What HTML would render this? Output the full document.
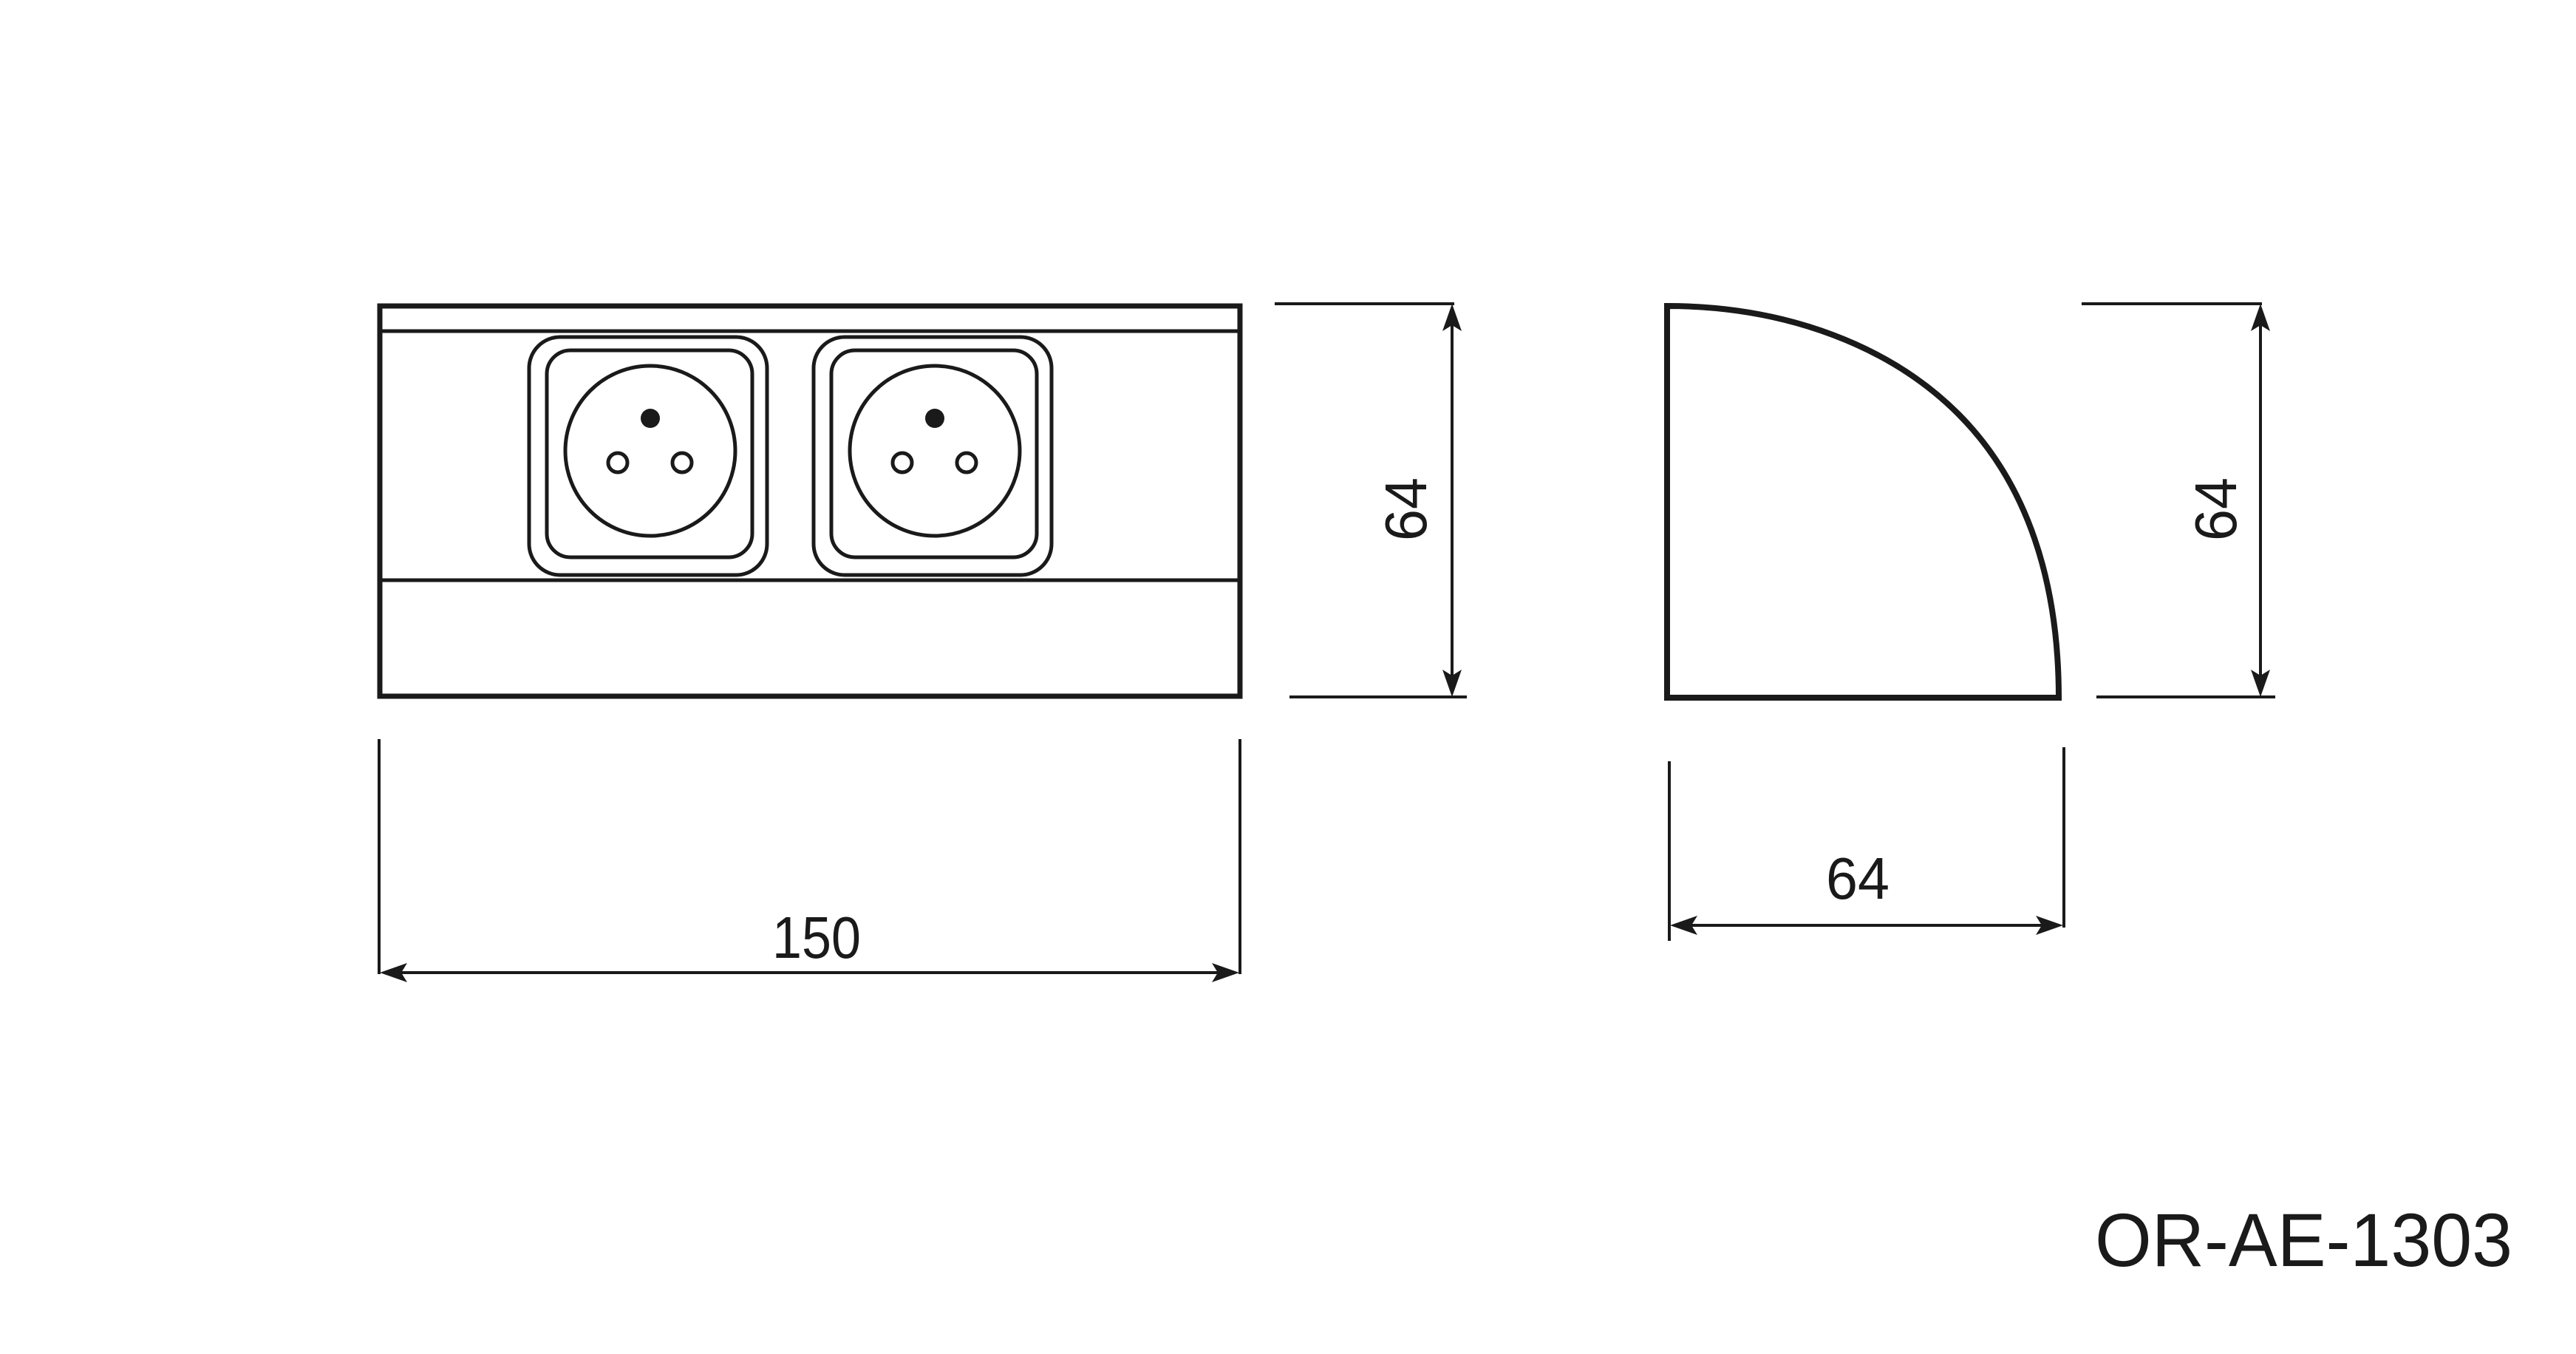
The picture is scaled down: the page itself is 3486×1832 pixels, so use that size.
<!DOCTYPE html>
<html><head><style>html,body{margin:0;padding:0;background:#fff}svg{display:block}</style></head>
<body>
<svg width="3486" height="1832" viewBox="0 0 3486 1832" xmlns="http://www.w3.org/2000/svg">
<defs>
<g id="sock" fill="none" stroke="#1a1a1a" stroke-width="5">
  <rect x="716" y="456" width="322" height="322" rx="42"/>
  <rect x="740" y="474" width="278" height="280" rx="32"/>
  <circle cx="880" cy="610" r="115"/>
  <circle cx="880" cy="566" r="13" fill="#1a1a1a" stroke="none"/>
  <circle cx="836" cy="626" r="13"/>
  <circle cx="923" cy="626" r="13"/>
</g>
</defs>
<rect width="3486" height="1832" fill="#fff"/>
<g stroke="#1a1a1a" fill="none">
  <rect x="514" y="414" width="1164" height="528" stroke-width="7"/>
  <line x1="514" y1="448" x2="1678" y2="448" stroke-width="5"/>
  <line x1="514" y1="785" x2="1678" y2="785" stroke-width="5"/>
</g>
<use href="#sock"/>
<use href="#sock" x="385"/>

<g stroke="#1a1a1a" stroke-width="4">
  <line x1="1725" y1="411" x2="1968" y2="411"/>
  <line x1="1745" y1="943" x2="1985" y2="943"/>
  <line x1="1965" y1="420" x2="1965" y2="935"/>
  <line x1="513" y1="1000" x2="513" y2="1318"/>
  <line x1="1678" y1="1000" x2="1678" y2="1318"/>
  <line x1="522" y1="1316" x2="1670" y2="1316"/>
  <line x1="2817" y1="411" x2="3061" y2="411"/>
  <line x1="2837" y1="943" x2="3079" y2="943"/>
  <line x1="3059" y1="420" x2="3059" y2="935"/>
  <line x1="2259" y1="1030" x2="2259" y2="1273"/>
  <line x1="2793" y1="1011" x2="2793" y2="1255"/>
  <line x1="2266" y1="1252" x2="2786" y2="1252"/>
</g>
<g fill="#1a1a1a">
  <polygon points="1965,411 1978,448 1965,440 1952,448"/>
  <polygon points="1965,943 1978,906 1965,914 1952,906"/>
  <polygon points="514,1316 551,1303 543,1316 551,1329"/>
  <polygon points="1677,1316 1640,1303 1648,1316 1640,1329"/>
  <polygon points="3059,411 3072,448 3059,440 3046,448"/>
  <polygon points="3059,943 3072,906 3059,914 3046,906"/>
  <polygon points="2260,1252 2297,1239 2289,1252 2297,1265"/>
  <polygon points="2792,1252 2755,1239 2763,1252 2755,1265"/>
</g>

<path d="M2256,944 L2256,414 C2420,414 2560,470 2650,560 C2745,655 2786,790 2786,944 Z" fill="none" stroke="#1a1a1a" stroke-width="8"/>

<g font-family="Liberation Sans, Arial, sans-serif" fill="#1a1a1a" font-size="80">
  <text x="1105" y="1296" text-anchor="middle" textLength="120" lengthAdjust="spacingAndGlyphs">150</text>
  <text x="2514" y="1216" text-anchor="middle" textLength="86" lengthAdjust="spacingAndGlyphs">64</text>
  <text transform="translate(1930,689) rotate(-90)" text-anchor="middle" textLength="86" lengthAdjust="spacingAndGlyphs">64</text>
  <text transform="translate(3026,689) rotate(-90)" text-anchor="middle" textLength="86" lengthAdjust="spacingAndGlyphs">64</text>
  <text x="2835" y="1713" font-size="102" textLength="565" lengthAdjust="spacingAndGlyphs">OR-AE-1303</text>
</g>
</svg>
</body></html>
